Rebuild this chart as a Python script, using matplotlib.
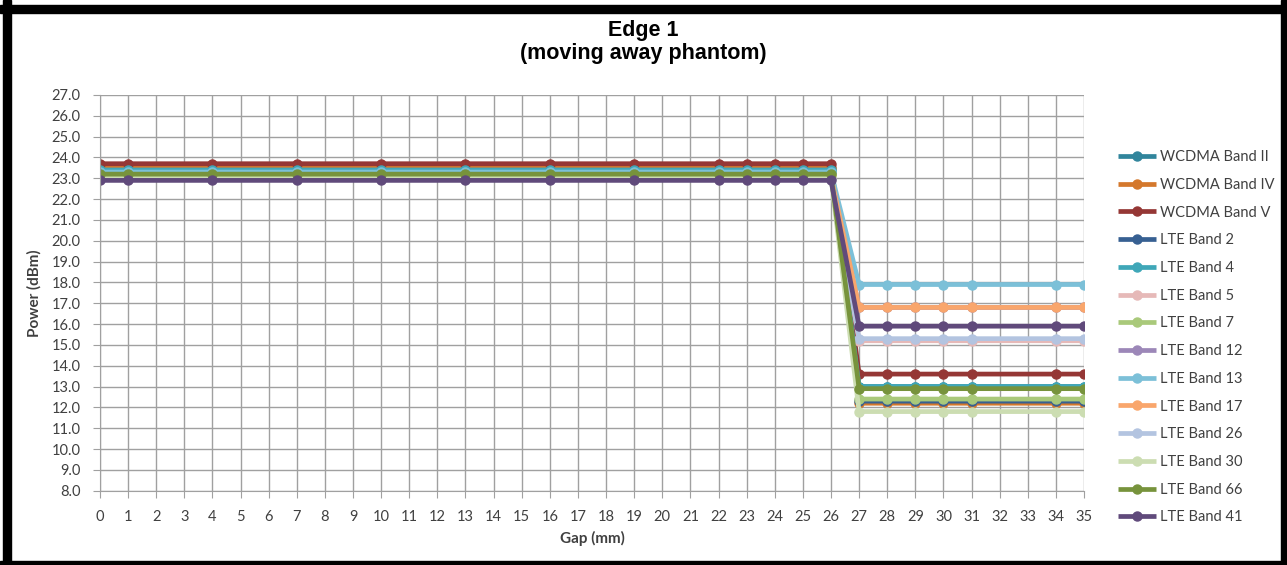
import matplotlib
matplotlib.use('Agg')
import matplotlib.pyplot as plt
from matplotlib.patches import Rectangle

# categorías del eje X (Gap en mm)
categorias = [str(i) for i in range(36)]
gap_medidos = [0, 1, 4, 7, 10, 13, 16, 19, 22, 23, 24, 25, 26, 27, 28, 29, 30, 31, 34, 35]

bandas = ['WCDMA Band II', 'WCDMA Band IV', 'WCDMA Band V', 'LTE Band 2', 'LTE Band 4',
          'LTE Band 5', 'LTE Band 7', 'LTE Band 12', 'LTE Band 13', 'LTE Band 17',
          'LTE Band 26', 'LTE Band 30', 'LTE Band 66', 'LTE Band 41']

wcdma_b2 = [23.5, 23.5, 23.5, 23.5, 23.5, 23.5, 23.5, 23.5, 23.5, 23.5, 23.5, 23.5, 23.5, 13.0, 13.0, 13.0, 13.0, 13.0, 13.0, 13.0]
wcdma_b4 = [23.5, 23.5, 23.5, 23.5, 23.5, 23.5, 23.5, 23.5, 23.5, 23.5, 23.5, 23.5, 23.5, 12.2, 12.2, 12.2, 12.2, 12.2, 12.2, 12.2]
wcdma_b5 = [23.7, 23.7, 23.7, 23.7, 23.7, 23.7, 23.7, 23.7, 23.7, 23.7, 23.7, 23.7, 23.7, 13.6, 13.6, 13.6, 13.6, 13.6, 13.6, 13.6]
lte_b2 = [23.3, 23.3, 23.3, 23.3, 23.3, 23.3, 23.3, 23.3, 23.3, 23.3, 23.3, 23.3, 23.3, 12.3, 12.3, 12.3, 12.3, 12.3, 12.3, 12.3]
lte_b4 = [23.4, 23.4, 23.4, 23.4, 23.4, 23.4, 23.4, 23.4, 23.4, 23.4, 23.4, 23.4, 23.4, 13.0, 13.0, 13.0, 13.0, 13.0, 13.0, 13.0]
lte_b5 = [23.1, 23.1, 23.1, 23.1, 23.1, 23.1, 23.1, 23.1, 23.1, 23.1, 23.1, 23.1, 23.1, 15.2, 15.2, 15.2, 15.2, 15.2, 15.2, 15.2]
lte_b7 = [23.2, 23.2, 23.2, 23.2, 23.2, 23.2, 23.2, 23.2, 23.2, 23.2, 23.2, 23.2, 23.2, 12.4, 12.4, 12.4, 12.4, 12.4, 12.4, 12.4]
lte_b12 = [23.0, 23.0, 23.0, 23.0, 23.0, 23.0, 23.0, 23.0, 23.0, 23.0, 23.0, 23.0, 23.0, 16.8, 16.8, 16.8, 16.8, 16.8, 16.8, 16.8]
lte_b13 = [23.3, 23.3, 23.3, 23.3, 23.3, 23.3, 23.3, 23.3, 23.3, 23.3, 23.3, 23.3, 23.3, 17.9, 17.9, 17.9, 17.9, 17.9, 17.9, 17.9]
lte_b17 = [23.1, 23.1, 23.1, 23.1, 23.1, 23.1, 23.1, 23.1, 23.1, 23.1, 23.1, 23.1, 23.1, 16.8, 16.8, 16.8, 16.8, 16.8, 16.8, 16.8]
lte_b26 = [23.0, 23.0, 23.0, 23.0, 23.0, 23.0, 23.0, 23.0, 23.0, 23.0, 23.0, 23.0, 23.0, 15.3, 15.3, 15.3, 15.3, 15.3, 15.3, 15.3]
lte_b30 = [23.1, 23.1, 23.1, 23.1, 23.1, 23.1, 23.1, 23.1, 23.1, 23.1, 23.1, 23.1, 23.1, 11.8, 11.8, 11.8, 11.8, 11.8, 11.8, 11.8]
lte_b66 = [23.2, 23.2, 23.2, 23.2, 23.2, 23.2, 23.2, 23.2, 23.2, 23.2, 23.2, 23.2, 23.2, 12.9, 12.9, 12.9, 12.9, 12.9, 12.9, 12.9]
lte_b41 = [22.9, 22.9, 22.9, 22.9, 22.9, 22.9, 22.9, 22.9, 22.9, 22.9, 22.9, 22.9, 22.9, 15.9, 15.9, 15.9, 15.9, 15.9, 15.9, 15.9]

series = [wcdma_b2, wcdma_b4, wcdma_b5, lte_b2, lte_b4, lte_b5, lte_b7,
          lte_b12, lte_b13, lte_b17, lte_b26, lte_b30, lte_b66, lte_b41]

colores = ['#31859C', '#D4782C', '#953735', '#376092', '#3FA7B8', '#E6B9B8', '#A9C97A',
           '#9C87B8', '#7CC0D8', '#F9A66C', '#B3C4E0', '#CCDDB2', '#77933C', '#604A7B']

plt.rcParams['font.family'] = ['Lato', 'DejaVu Sans']

fig = plt.figure(figsize=(12.87, 5.65), dpi=100, facecolor='white')
ax = fig.add_axes([100 / 1287, 1 - 490.7 / 565, 984 / 1287, 395.7 / 565])

for nombre, valores, color in zip(bandas, series, colores):
    ax.plot(gap_medidos, valores, color=color, lw=3.4, marker='o', markersize=6.5,
            label=nombre, solid_capstyle='butt')

ax.set_xlim(0, 35)
ax.set_ylim(8, 27)
ax.set_xticks(range(36))
ax.set_xticklabels(categorias)
ax.set_yticks(range(8, 28))
ax.set_yticklabels([f'{v:.1f}' for v in range(8, 28)])
ax.grid(True, color='#A0A0A0', lw=1.0)
ax.set_axisbelow(True)
for lado in ['top', 'right']:
    ax.spines[lado].set_visible(False)
ax.spines['left'].set_color('#A0A0A0')
ax.spines['bottom'].set_color('#A0A0A0')
ax.tick_params(axis='both', colors='#A0A0A0', labelcolor='#404040', labelsize=10.5, length=5)
ax.tick_params(axis='x', pad=9)
ax.tick_params(axis='y', pad=9)

ax.set_xlabel('Gap (mm)', fontsize=11, fontweight='bold', color='#404040', labelpad=5)
ax.set_ylabel('Power (dBm)', fontsize=11, fontweight='bold', color='#404040', labelpad=7)

fig.text(0.5, 1 - 42 / 565, 'Edge 1\n(moving away phantom)', ha='center', va='center',
         fontsize=15.5, fontweight='bold', family='Liberation Sans', linespacing=1.15)

ax.legend(loc='upper left', bbox_to_anchor=(1105 / 1287, 1 - 137 / 565),
          bbox_transform=fig.transFigure, frameon=False, fontsize=10.5,
          labelspacing=0.94, handlelength=2.6, handletextpad=0.3, labelcolor='#404040')

# marco negro alrededor de la imagen
for r in [(3, 0, 8, 565), (0, 552, 1287, 8), (1281, 0, 6, 565), (0, 0, 1287, 4)]:
    fig.patches.append(Rectangle((r[0] / 1287, r[1] / 565), r[2] / 1287, r[3] / 565,
                                 transform=fig.transFigure, color='black', zorder=10))

fig.savefig('out.png', dpi=100, facecolor='white')
